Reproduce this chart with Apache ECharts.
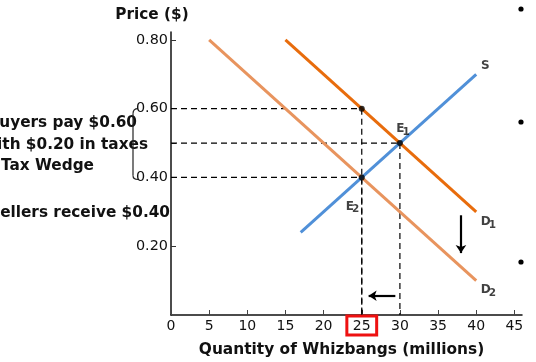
<!DOCTYPE html>
<html><head><meta charset="utf-8">
<script src="https://cdn.jsdelivr.net/npm/echarts@6/dist/echarts.min.js"></script>
<style>html,body{margin:0;padding:0;background:#fff}#c{width:536px;height:362px}</style>
</head><body><div id="c"></div>
<script>
// ---- data ----
const xTickValues = [0, 5, 10, 15, 20, 25, 30, 35, 40, 45];
const yTickLabels = [0.2, 0.4, 0.6, 0.8];
const yTickMarks = [0.2, 0.4, 0.5, 0.6, 0.8];
const demand1 = [[15, 0.80], [40, 0.30]];
const demand2 = [[5, 0.80], [40, 0.10]];
const supply = [[17, 0.24], [40, 0.70]];
const keyPoints = [[25, 0.60], [30, 0.50], [25, 0.40]];
const highlightedTick = 25;
const curveLabels = [
  {text: 'S', at: [41.2, 0.725]},
  {text: 'E', sub: '1', at: [30.4, 0.54]},
  {text: 'E', sub: '2', at: [23.8, 0.315]},
  {text: 'D', sub: '1', at: [41.6, 0.27]},
  {text: 'D', sub: '2', at: [41.6, 0.072]}
];
const shiftArrowDown = [[38, 0.29], [38, 0.18]];
const shiftArrowLeft = [[29.4, 0.056], [25.9, 0.056]];
const wedgeTexts = ['Buyers pay $0.60', 'With $0.20 in taxes', 'Tax Wedge', 'Sellers receive $0.40'];

const FONT = 'DejaVu Sans';
const chart = echarts.init(document.getElementById('c'), null, {renderer: 'canvas'});

const guideSeries = [];
keyPoints.forEach(p => {
  guideSeries.push({type: 'line', data: [[0, p[1]], p], symbol: 'none', silent: true,
    lineStyle: {color: '#000', width: 1.2, type: [6, 4]}, z: 1});
  guideSeries.push({type: 'line', data: [p, [p[0], 0]], symbol: 'none', silent: true,
    lineStyle: {color: '#000', width: 1.2, type: [6, 4]}, z: 1});
});

function arrowLine(pts) {
  return {type: 'line', data: [], symbol: 'none', silent: true,
    markLine: {silent: true, symbol: ['none', 'arrow'], symbolSize: [8, 8],
      label: {show: false},
      lineStyle: {color: '#000', width: 2.2, type: 'solid'},
      data: [[{coord: pts[0]}, {coord: pts[1]}]]}};
}

const option = {
  animation: false,
  backgroundColor: '#fff',
  grid: {left: 171, right: 14, top: 32, bottom: 46, containLabel: false},
  xAxis: {
    type: 'value', min: 0, max: 46, interval: 5,
    name: 'Quantity of Whizbangs (millions)', nameLocation: 'middle', nameGap: 27,
    nameTextStyle: {fontFamily: FONT, fontWeight: 'bold', fontSize: 15.4, color: '#111', padding: [0, 10, 0, 0]},
    axisLine: {lineStyle: {color: '#111', width: 1.5}},
    axisTick: {show: true, inside: true, length: 5, lineStyle: {color: '#444'}, customValues: xTickValues},
    splitLine: {show: false},
    axisLabel: {
      customValues: xTickValues, margin: 1,
      formatter: v => v === highlightedTick ? '{hl|' + v + '}' : '{n|' + v + '}',
      rich: {
        n: {fontFamily: FONT, fontSize: 14, color: '#111', padding: [3, 6, 2, 6]},
        hl: {fontFamily: FONT, fontSize: 14, color: '#111', padding: [3, 6, 2, 6], borderColor: '#ee1111', borderWidth: 3}
      }
    }
  },
  yAxis: {
    type: 'value', min: 0, max: 0.823,
    axisLine: {lineStyle: {color: '#111', width: 1.5}},
    axisTick: {show: true, inside: true, length: 5, lineStyle: {color: '#333'}, customValues: yTickMarks},
    splitLine: {show: false},
    axisLabel: {customValues: yTickLabels, margin: 3, fontFamily: FONT, fontSize: 14.4, color: '#111',
      formatter: v => v.toFixed(2)}
  },
  series: [
    ...guideSeries,
    {type: 'line', data: demand2, symbol: 'none', lineStyle: {color: '#e8945e', width: 3}, z: 3},
    {type: 'line', data: demand1, symbol: 'none', lineStyle: {color: '#e86c0c', width: 3}, z: 3},
    {type: 'line', data: supply, symbol: 'none', lineStyle: {color: '#5090d8', width: 3}, z: 3},
    {type: 'scatter', data: keyPoints, symbolSize: 6, itemStyle: {color: '#000'}, z: 5},
    {type: 'scatter', data: curveLabels.map(l => ({value: l.at, l})), symbolSize: 0, z: 6,
      label: {show: true, position: 'inside',
        formatter: p => '{m|' + p.data.l.text + '}' + (p.data.l.sub ? '{s|' + p.data.l.sub + '}' : ''),
        rich: {
          m: {fontFamily: FONT, fontWeight: 'bold', fontSize: 12, color: '#111'},
          s: {fontFamily: FONT, fontWeight: 'bold', fontSize: 10.5, color: '#111', padding: [6, 0, 0, -2]}
        }}},
    arrowLine(shiftArrowDown),
    arrowLine(shiftArrowLeft)
  ]
};
chart.setOption(option);

// annotations outside the plot
const tf = {fontFamily: FONT, fontWeight: 'bold', fontSize: 15.3, fill: '#111'};
const y06 = chart.convertToPixel({gridIndex: 0}, [0, 0.6])[1];
const y04 = chart.convertToPixel({gridIndex: 0}, [0, 0.4])[1];
const bx = 133;
chart.setOption({graphic: [
  {type: 'text', x: 152, y: 15,
    style: Object.assign({text: 'Price ($)', align: 'center', verticalAlign: 'middle'}, tf)},
  {type: 'text', x: 137, y: 123, style: Object.assign({text: wedgeTexts[0], align: 'right', verticalAlign: 'middle'}, tf)},
  {type: 'text', x: 148, y: 145, style: Object.assign({text: wedgeTexts[1], align: 'right', verticalAlign: 'middle'}, tf)},
  {type: 'text', x: 1, y: 166, style: Object.assign({text: wedgeTexts[2], align: 'left', verticalAlign: 'middle'}, tf)},
  {type: 'text', x: 170, y: 213, style: Object.assign({text: wedgeTexts[3], align: 'right', verticalAlign: 'middle'}, tf)},
  {type: 'bezierCurve', shape: {x1: bx + 5, y1: y06, cpx1: bx, cpy1: y06, x2: bx, y2: y06 + 5},
    style: {stroke: '#222', lineWidth: 1.2, fill: null}},
  {type: 'line', shape: {x1: bx, y1: y06 + 5, x2: bx, y2: y04 - 2},
    style: {stroke: '#222', lineWidth: 1.2}},
  {type: 'bezierCurve', shape: {x1: bx, y1: y04 - 2, cpx1: bx, cpy1: y04 + 2, x2: bx + 5, y2: y04 + 2},
    style: {stroke: '#222', lineWidth: 1.2, fill: null}},
  {type: 'circle', shape: {cx: 521, cy: 9, r: 2.6}, style: {fill: '#000'}},
  {type: 'circle', shape: {cx: 521, cy: 122, r: 2.6}, style: {fill: '#000'}},
  {type: 'circle', shape: {cx: 521, cy: 262, r: 2.6}, style: {fill: '#000'}}
]});
</script></body></html>
